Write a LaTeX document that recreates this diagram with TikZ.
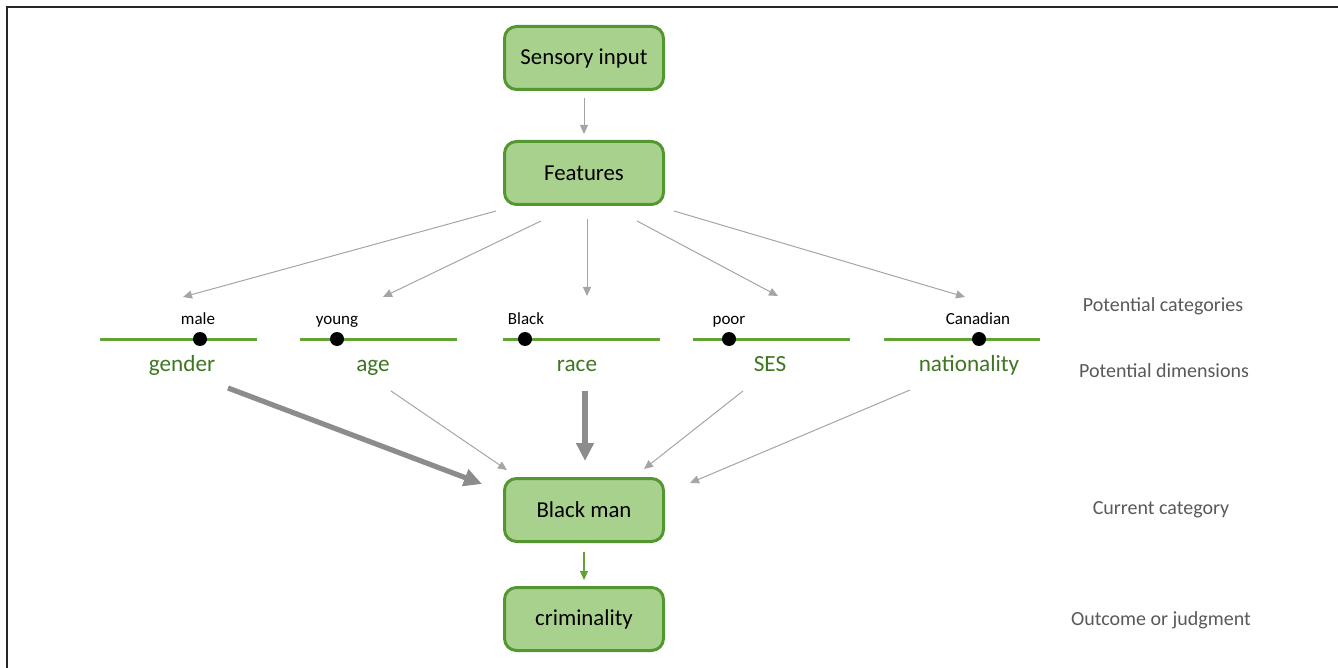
\documentclass[tikz,border=0pt]{standalone}
\usepackage{fontspec}
\setmainfont{Carlito}
\usetikzlibrary{arrows.meta,positioning}
\definecolor{boxfill}{RGB}{169,209,142}
\definecolor{boxdraw}{RGB}{84,150,48}
\definecolor{dimgreen}{RGB}{62,118,34}
\definecolor{linegreen}{RGB}{96,162,52}
\definecolor{arrowgray}{RGB}{165,165,165}
\definecolor{thickgray}{RGB}{140,140,140}
\definecolor{sidegray}{RGB}{89,89,89}
\tikzset{stage/.style={draw=boxdraw, fill=boxfill, line width=1.5pt, rounded corners=6pt, minimum width=79.5pt, minimum height=31.5pt, font=\fontsize{11.4}{13}\selectfont},
thin arrow/.style={draw=arrowgray, line width=0.5pt, -{Triangle[length=4.5pt,width=4pt]}},
thick arrow/.style={draw=thickgray, line width=2.6pt, -{Triangle[length=9pt,width=8.5pt]}},
dim line/.style={draw=linegreen, line width=1.5pt},
dim dot/.style={circle, fill=black, inner sep=0pt, minimum size=7pt},
cat label/.style={anchor=base, font=\fontsize{8.5}{10}\selectfont},
dim label/.style={anchor=base, text=dimgreen, font=\fontsize{11.6}{13}\selectfont},
side label/.style={anchor=base, text=sidegray, font=\fontsize{10}{12}\selectfont}}

\begin{document}
\begin{tikzpicture}[x=0.5pt,y=-0.5pt]
\useasboundingbox (0,0) rectangle (1338,668);
\draw[line width=1.2pt, black!85] (1338,7) -- (7,7) -- (7,668);

% boxes
\node[stage] (sensory) at (584,58) {Sensory input};
\node[stage] (feat) at (584,173) {Features};
\node[stage] (man) at (584,510) {Black man};
\node[stage] (crime) at (584,619) {criminality};

% dimensions
\draw[dim line] (100,339) -- (257,339);
\draw[dim line] (300,339) -- (457,339);
\draw[dim line] (503,339) -- (660,339);
\draw[dim line] (693,339) -- (850,339);
\draw[dim line] (884,339) -- (1040,339);
\node[dim dot] (dmale) at (200,339) {};
\node[dim dot] (dyoung) at (337,339) {};
\node[dim dot] (dblack) at (525,339) {};
\node[dim dot] (dpoor) at (729,339) {};
\node[dim dot] (dcan) at (979,339) {};
\node[cat label] (male) at (198,324) {male};
\node[cat label] (young) at (337,324) {young};
\node[cat label] (black) at (526,324) {Black};
\node[cat label] (poor) at (729,324) {poor};
\node[cat label] (canadian) at (978,324) {Canadian};
\node[dim label] (gender) at (182,371) {gender};
\node[dim label] (age) at (373,371) {age};
\node[dim label] (race) at (577,371) {race};
\node[dim label] (ses) at (770,371) {SES};
\node[dim label] (nation) at (969,371) {nationality};

% side labels
\node[side label] (lcat) at (1163,312) {Potential categories};
\node[side label] (ldim) at (1164,377) {Potential dimensions};
\node[side label] (lcur) at (1161,514) {Current category};
\node[side label] (lout) at (1161,625) {Outcome or judgment};

% arrow ends
\coordinate (f1) at (496,211); \coordinate (t1) at (183,297);
\coordinate (f2) at (541,221); \coordinate (t2) at (383,297);
\coordinate (f3) at (587,219); \coordinate (t3) at (587,296);
\coordinate (f4) at (637,221); \coordinate (t4) at (778,296);
\coordinate (f5) at (674,211); \coordinate (t5) at (965,297);
\coordinate (g1) at (228,388); \coordinate (h1) at (482,484);
\coordinate (g2) at (391,391); \coordinate (h2) at (507,470);
\coordinate (g3) at (585,391); \coordinate (h3) at (585,461);
\coordinate (g4) at (743,391); \coordinate (h4) at (644,469);
\coordinate (g5) at (910,390); \coordinate (h5) at (690,483);

\draw[thin arrow, shorten <=3.5pt, shorten >=3pt] (sensory) -- (feat);
\foreach \i in {1,...,5}
  \draw[thin arrow] (f\i) -- (t\i);
\draw[thick arrow] (g1) -- (h1);
\draw[thin arrow] (g2) -- (h2);
\draw[thick arrow] (g3) -- (h3);
\draw[thin arrow] (g4) -- (h4);
\draw[thin arrow] (g5) -- (h5);
\draw[draw=linegreen, line width=0.6pt, -{Triangle[length=4.5pt,width=4pt]}, shorten <=4.5pt, shorten >=3pt] (man) -- (crime);
\end{tikzpicture}
\end{document}
